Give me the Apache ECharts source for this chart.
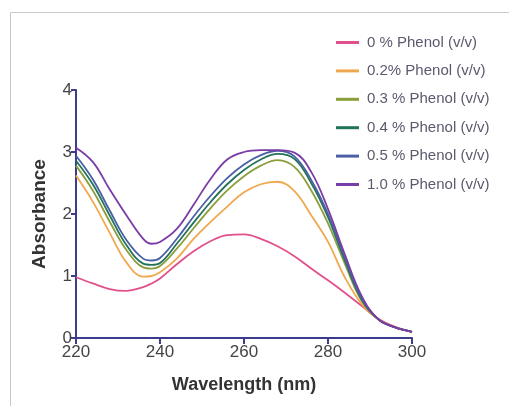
<!DOCTYPE html>
<html><head><meta charset="utf-8">
<script src="https://cdn.jsdelivr.net/npm/echarts@6/dist/echarts.min.js"></script>
<style>html,body{margin:0;padding:0;background:#fff;}#c{width:509px;height:406px;}</style>
</head><body><div id="c"></div>
<script>
const wavelengths = [220,224,228,232,236,238,240,244,248,252,256,260,264,268,272,276,280,284,288,292,296,300];
const seriesNames = ['0 % Phenol (v/v)','0.2% Phenol (v/v)','0.3 % Phenol (v/v)','0.4 % Phenol (v/v)','0.5 % Phenol (v/v)','1.0 % Phenol (v/v)'];
const phenol0   = [0.98,0.88,0.79,0.76,0.82,0.88,0.96,1.19,1.40,1.56,1.66,1.67,1.60,1.48,1.32,1.12,0.93,0.73,0.52,0.31,0.18,0.10];
const phenol02  = [2.62,2.20,1.70,1.22,0.99,1.00,1.06,1.28,1.60,1.87,2.12,2.35,2.48,2.52,2.37,1.98,1.55,0.98,0.55,0.30,0.17,0.10];
const phenol03  = [2.78,2.38,1.88,1.42,1.14,1.12,1.16,1.44,1.77,2.09,2.38,2.61,2.78,2.87,2.76,2.38,1.85,1.20,0.60,0.30,0.17,0.10];
const phenol04  = [2.86,2.48,1.98,1.50,1.20,1.18,1.21,1.52,1.86,2.19,2.48,2.71,2.88,2.97,2.89,2.50,1.95,1.25,0.62,0.30,0.17,0.10];
const phenol05  = [2.94,2.56,2.06,1.58,1.28,1.25,1.29,1.60,1.96,2.29,2.58,2.80,2.95,3.02,2.93,2.55,2.00,1.30,0.64,0.30,0.17,0.10];
const phenol10  = [3.07,2.84,2.40,1.98,1.60,1.52,1.55,1.76,2.15,2.56,2.88,3.00,3.03,3.03,2.99,2.68,2.08,1.35,0.68,0.30,0.17,0.10];
const xTicks = [220,240,260,280,300];
const yTicks = [0,1,2,3,4];
const colors = ['#e2508c','#f0a84e','#8a9e3c','#22735a','#4a5fa4','#7a3ca6'];
const allValues = [phenol0,phenol02,phenol03,phenol04,phenol05,phenol10];

const axisColor = '#3c3c8c';
const chart = echarts.init(document.getElementById('c'));
chart.setOption({
  animation: false,
  color: colors,
  graphic: [{type:'rect', shape:{x:10.5,y:12.5,width:520,height:420}, style:{fill:'none', stroke:'#c8c8c8', lineWidth:1}, silent:true}],
  grid: {left:76, right:97, top:90, bottom:68},
  legend: {
    orient:'vertical', left:331, top:30, itemWidth:23, itemHeight:3, itemGap:13.4, icon:'rect',
    textStyle:{fontFamily:'Liberation Sans, Arial', fontSize:15, color:'#5a5a6e', lineHeight:14, padding:[0,0,0,3]},
    data: seriesNames
  },
  xAxis: {
    type:'value', min:220, max:300, interval:20,
    name:'Wavelength (nm)', nameLocation:'middle', nameGap:38,
    nameTextStyle:{fontFamily:'Liberation Sans, Arial', fontWeight:'bold', fontSize:18, color:'#333'},
    axisLine:{show:true, lineStyle:{color:axisColor, width:2}},
    axisTick:{show:true, length:6, lineStyle:{color:axisColor, width:2}},
    axisLabel:{fontFamily:'Liberation Sans, Arial', fontSize:17, color:'#444', margin:6,
      formatter: v => xTicks.includes(v) ? String(v) : ''},
    splitLine:{show:false}
  },
  yAxis: {
    type:'value', min:0, max:4, interval:1,
    name:'Absorbance', nameLocation:'middle', nameGap:27, nameRotate:90,
    nameTextStyle:{fontFamily:'Liberation Sans, Arial', fontWeight:'bold', fontSize:19, color:'#333'},
    axisLine:{show:true, lineStyle:{color:axisColor, width:2}},
    axisTick:{show:true, length:5, lineStyle:{color:axisColor, width:2}},
    axisLabel:{fontFamily:'Liberation Sans, Arial', fontSize:17, color:'#444', margin:4,
      formatter: v => yTicks.includes(v) ? String(v) : ''},
    splitLine:{show:false}
  },
  series: seriesNames.map((n,i) => ({
    name:n, type:'line', smooth:0.4, showSymbol:false, symbol:'none',
    lineStyle:{width:1.8, color:colors[i]}, itemStyle:{color:colors[i]},
    data: wavelengths.map((w,j) => [w, allValues[i][j]])
  }))
});
</script></body></html>
